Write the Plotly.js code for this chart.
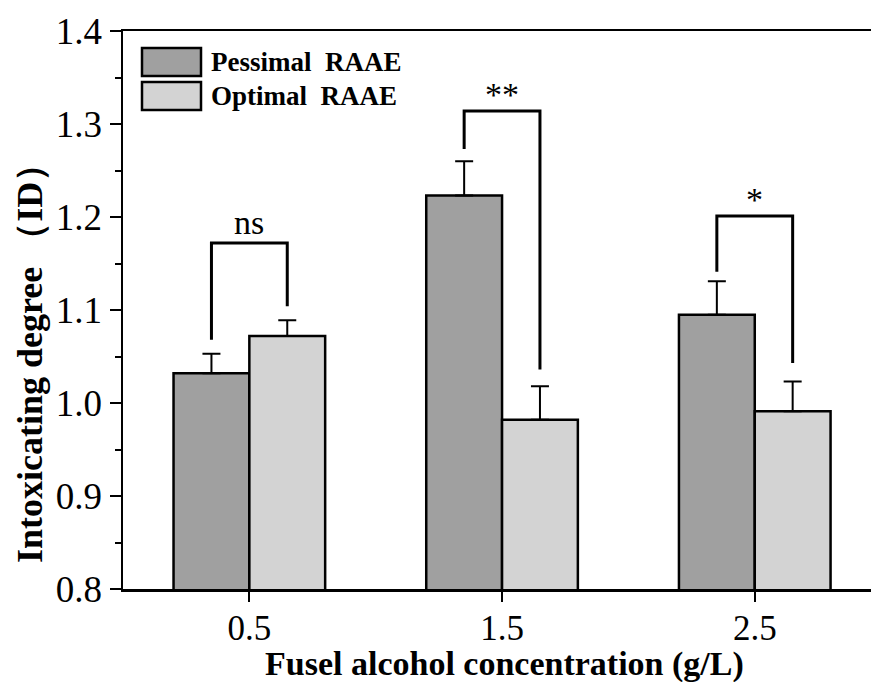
<!DOCTYPE html>
<html>
<head>
<meta charset="utf-8">
<script src="https://cdn.plot.ly/plotly-3.0.1.min.js"></script>
<style>html,body{margin:0;padding:0;background:#fff;}#chart{width:871px;height:682px;}</style>
</head>
<body>
<div id="chart"></div>
<script>
var categories = [0.5, 1.5, 2.5];
var tickLabels = ["0.5", "1.5", "2.5"];
var pessimal = [1.032, 1.223, 1.095];
var pessimalErr = [0.021, 0.037, 0.036];
var optimal = [1.072, 0.982, 0.991];
var optimalErr = [0.017, 0.036, 0.032];
var seriesNames = ["Pessimal  RAAE", "Optimal  RAAE"];
var sigLabels = ["ns", "**", "*"];
var bracketTop = [1.172, 1.314, 1.201];
var bracketLeftEnd = [1.068, 1.273, 1.141];
var bracketRightEnd = [1.104, 1.036, 1.043];
var xTitle = "Fusel alcohol concentration (g/L)";
var yTitle = "Intoxicating degree （ID）";

var barW = 0.3;
var F = "Liberation Serif, Times New Roman, serif";

var traces = [
  {type: "bar", x: categories, y: pessimal, name: seriesNames[0], width: barW, offset: -barW,
   marker: {color: "#a0a0a0", line: {color: "#000", width: 2.5}},
   error_y: {type: "data", array: pessimalErr, arrayminus: pessimalErr.map(function(){return 0;}), symmetric: false, color: "#000", thickness: 2, width: 9},
   showlegend: false, hoverinfo: "skip"},
  {type: "bar", x: categories, y: optimal, name: seriesNames[1], width: barW, offset: 0,
   marker: {color: "#d3d3d3", line: {color: "#000", width: 2.5}},
   error_y: {type: "data", array: optimalErr, arrayminus: optimalErr.map(function(){return 0;}), symmetric: false, color: "#000", thickness: 2, width: 9},
   showlegend: false, hoverinfo: "skip"}
];

var annotations = [];
categories.forEach(function(c, i) {
  var xl = c - barW / 2, xr = c + barW / 2;
  traces.push({type: "scatter", mode: "lines", x: [xl, xl, xr, xr],
    y: [bracketLeftEnd[i], bracketTop[i], bracketTop[i], bracketRightEnd[i]],
    line: {color: "#000", width: 3}, showlegend: false, hoverinfo: "skip"});
  annotations.push({x: c, y: bracketTop[i], xref: "x", yref: "y", text: sigLabels[i], showarrow: false,
    yanchor: "bottom", yshift: sigLabels[i] === "ns" ? 0 : -4, font: {family: F, size: 34, color: "#000"}});
});

// manual legend
var shapes = [
  {type: "rect", xref: "paper", yref: "paper", x0: (142-123)/748, x1: (201-123)/748, y0: (589-76)/558, y1: (589-48)/558,
   fillcolor: "#a0a0a0", line: {color: "#000", width: 2.5}},
  {type: "rect", xref: "paper", yref: "paper", x0: (142-123)/748, x1: (201-123)/748, y0: (589-110)/558, y1: (589-82)/558,
   fillcolor: "#d3d3d3", line: {color: "#000", width: 2.5}}
];
annotations.push({xref: "paper", yref: "paper", x: (209-123)/748, y: (589-62)/558, xanchor: "left", yanchor: "middle",
  text: "<b>" + seriesNames[0] + "</b>", showarrow: false, font: {family: F, size: 27, color: "#000"}});
annotations.push({xref: "paper", yref: "paper", x: (209-123)/748, y: (589-96)/558, xanchor: "left", yanchor: "middle",
  text: "<b>" + seriesNames[1] + "</b>", showarrow: false, font: {family: F, size: 27, color: "#000"}});
// axis titles
annotations.push({xref: "paper", yref: "paper", x: -(123-30)/748, y: (589-355)/558, xanchor: "center", yanchor: "middle",
  textangle: -90, text: "<b>" + yTitle + "</b>", showarrow: false, font: {family: F, size: 36, color: "#000"}});
annotations.push({xref: "paper", yref: "paper", x: (504-123)/748, y: (589-664)/558, xanchor: "center", yanchor: "middle",
  text: "<b>" + xTitle + "</b>", showarrow: false, font: {family: F, size: 34, color: "#000"}});

var layout = {
  width: 871, height: 682,
  margin: {l: 123, r: 0, t: 31, b: 93},
  paper_bgcolor: "#fff", plot_bgcolor: "#fff",
  showlegend: false,
  barmode: "overlay",
  xaxis: {range: [0, 2.96], tickvals: categories, ticktext: tickLabels, ticks: "outside", ticklen: 10, tickwidth: 2,
    tickcolor: "#000", showline: true, linecolor: "#000", linewidth: 2.5, mirror: true, showgrid: false, zeroline: false,
    ticklabelstandoff: -4,
    tickfont: {family: F, size: 35, color: "#000"}},
  yaxis: {range: [0.8, 1.4], dtick: 0.1, tick0: 0.8, tickformat: ".1f", ticks: "outside", ticklen: 11, tickwidth: 2,
    tickcolor: "#000", showline: true, linecolor: "#000", linewidth: 2.5, mirror: false, showgrid: false, zeroline: false,
    minor: {dtick: 0.05, ticks: "outside", ticklen: 6, tickwidth: 2, tickcolor: "#000", showgrid: false},
    tickfont: {family: F, size: 37, color: "#000"}},
  shapes: shapes,
  annotations: annotations
};

Plotly.newPlot("chart", traces, layout, {staticPlot: true, displayModeBar: false});
</script>
</body>
</html>
